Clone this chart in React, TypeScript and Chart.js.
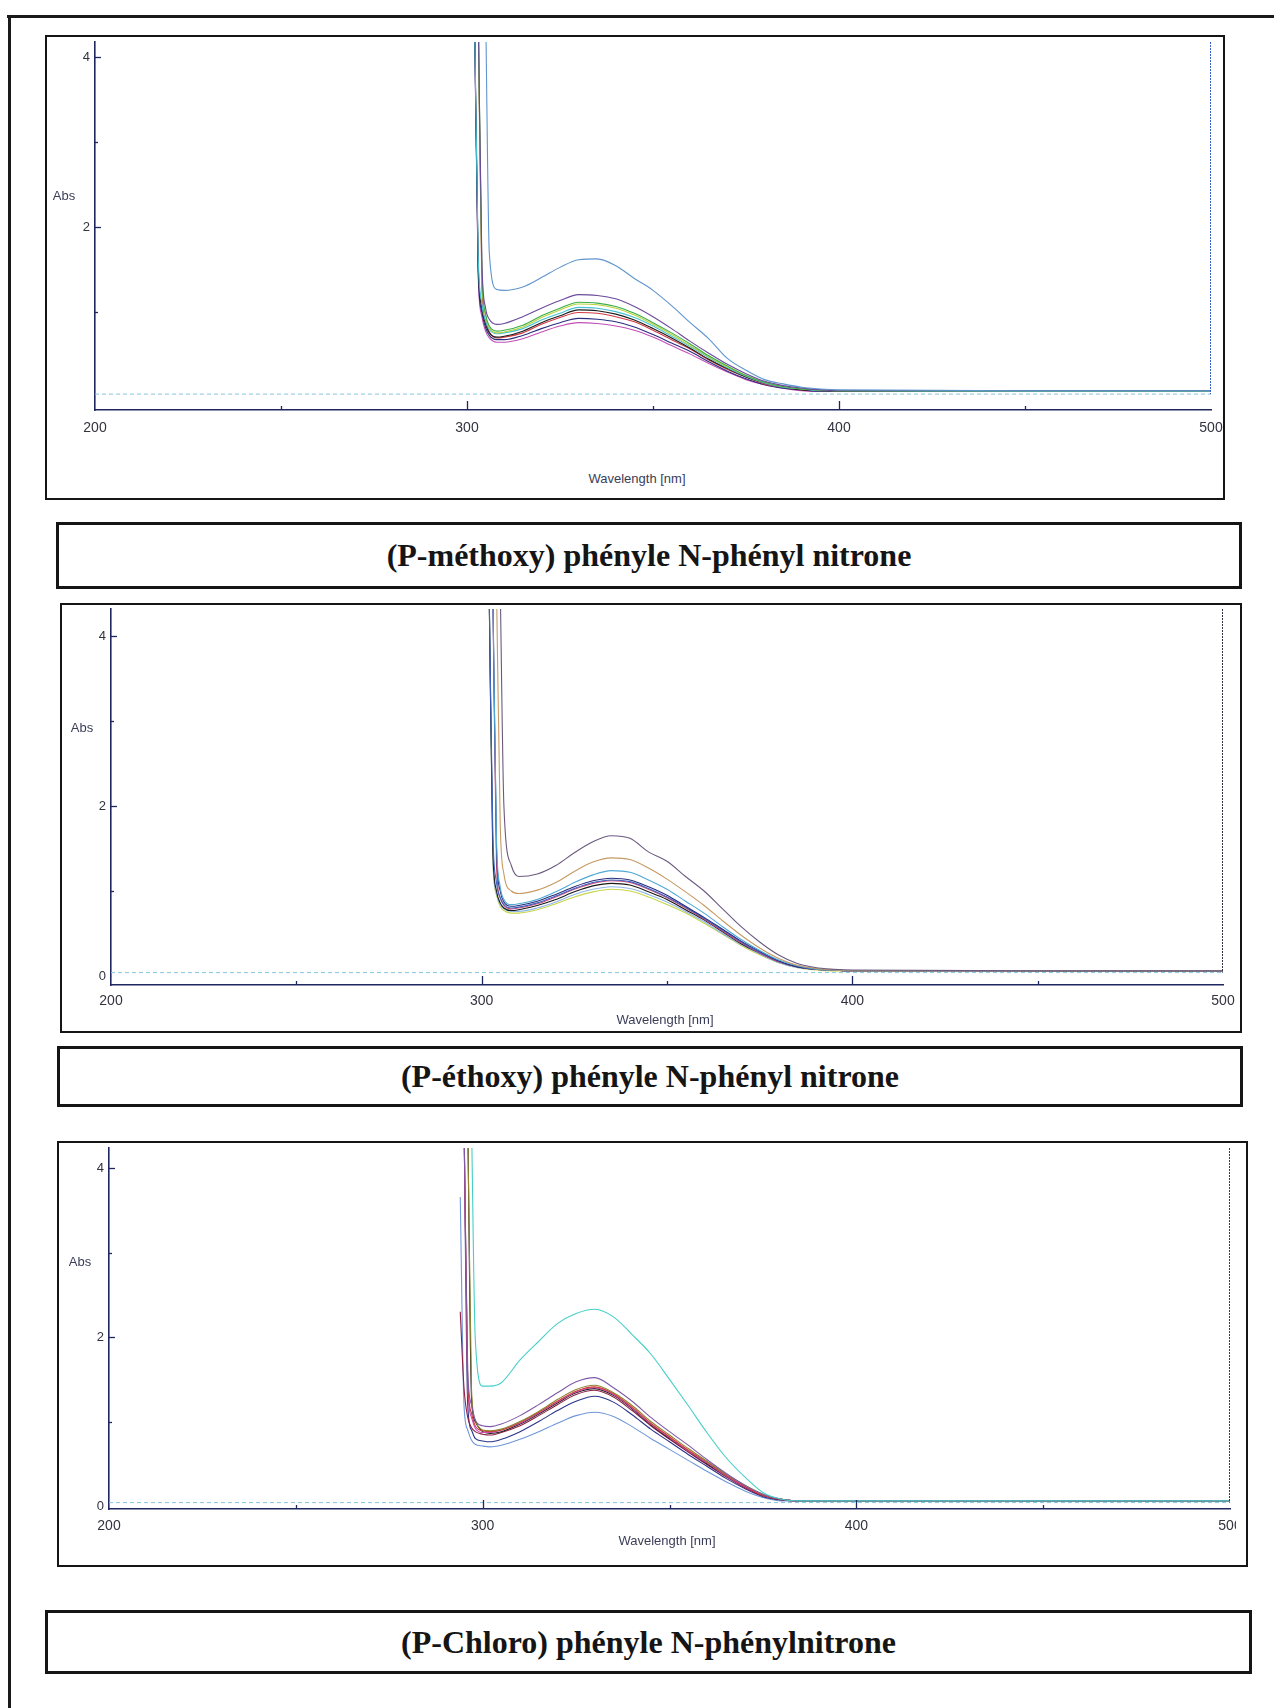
import React, { useEffect, useRef } from 'react';
import { Chart, registerables } from 'chart.js';

Chart.register(...registerables);

// ---------------- DATA ----------------
const X_TICKS = [200, 300, 400, 500];
const X_MAJOR_MARKS = [300, 400];
const X_MINOR_MARKS = [250, 350, 450];
const Y_MAJOR_MARKS = [2, 4];
const Y_MINOR_MARKS = [1, 3];
const P1_Y_TICKS = [2, 4];
const P2_Y_TICKS = [0, 2, 4];
const P3_Y_TICKS = [0, 2, 4];
const BASELINE_X = [200, 500];
const BASELINE_Y = [0.04, 0.04];

// Panel 1 : (P-méthoxy) phényle N-phényl nitrone
const P1_WL = [302, 303, 304, 305, 306, 308, 310, 315, 320, 325, 330, 335, 340, 345, 350, 355, 360, 365, 370, 375, 380, 385, 390, 395, 400, 450, 500];
const P1_S1 = [null, null, null, 4.6, 1.7, 1.27, 1.26, 1.3, 1.41, 1.53, 1.62, 1.63, 1.55, 1.4, 1.26, 1.08, 0.88, 0.69, 0.46, 0.32, 0.21, 0.16, 0.12, 0.1, 0.09, 0.08, 0.08];
const P1_S2 = [null, 4.6, 1.6, 1.05, 0.92, 0.86, 0.87, 0.95, 1.05, 1.14, 1.21, 1.2, 1.16, 1.07, 0.95, 0.81, 0.66, 0.52, 0.39, 0.28, 0.19, 0.14, 0.11, 0.09, 0.08, 0.08, 0.08];
const P1_S3 = [null, 4.6, 1.5, 0.98, 0.84, 0.78, 0.79, 0.85, 0.96, 1.05, 1.12, 1.11, 1.07, 0.99, 0.88, 0.76, 0.63, 0.49, 0.37, 0.26, 0.18, 0.13, 0.1, 0.09, 0.08, 0.08, 0.08];
const P1_S4 = [null, 4.6, 1.45, 0.96, 0.82, 0.76, 0.77, 0.83, 0.94, 1.03, 1.1, 1.09, 1.05, 0.97, 0.86, 0.74, 0.61, 0.48, 0.36, 0.26, 0.18, 0.13, 0.1, 0.09, 0.08, 0.08, 0.08];
const P1_S5 = [4.6, 1.7, 1.1, 0.9, 0.8, 0.75, 0.76, 0.81, 0.91, 0.99, 1.06, 1.05, 1.01, 0.94, 0.84, 0.72, 0.6, 0.47, 0.35, 0.25, 0.17, 0.12, 0.1, 0.08, 0.08, 0.07, 0.07];
const P1_S6 = [4.6, 1.6, 1.05, 0.86, 0.76, 0.71, 0.72, 0.78, 0.88, 0.96, 1.03, 1.02, 0.98, 0.91, 0.81, 0.7, 0.58, 0.45, 0.34, 0.24, 0.17, 0.12, 0.09, 0.08, 0.07, 0.07, 0.07];
const P1_S7 = [null, 4.6, 1.3, 0.9, 0.77, 0.7, 0.71, 0.76, 0.86, 0.94, 1.0, 0.99, 0.95, 0.89, 0.79, 0.68, 0.57, 0.44, 0.33, 0.24, 0.16, 0.12, 0.09, 0.08, 0.07, 0.07, 0.07];
const P1_S8 = [4.6, 1.5, 1.0, 0.82, 0.73, 0.68, 0.68, 0.73, 0.81, 0.88, 0.93, 0.92, 0.89, 0.83, 0.74, 0.64, 0.54, 0.42, 0.31, 0.22, 0.15, 0.11, 0.09, 0.07, 0.07, 0.07, 0.07];
const P1_S9 = [4.6, 1.45, 0.95, 0.78, 0.7, 0.65, 0.65, 0.69, 0.77, 0.84, 0.88, 0.87, 0.84, 0.79, 0.71, 0.61, 0.51, 0.4, 0.3, 0.21, 0.15, 0.11, 0.08, 0.07, 0.07, 0.07, 0.07];

// Panel 2 : (P-éthoxy) phényle N-phényl nitrone
const P2_WL = [302, 303, 304, 305, 306, 308, 310, 315, 320, 325, 330, 335, 340, 345, 350, 355, 360, 365, 370, 375, 380, 385, 390, 395, 400, 450, 500];
const P2_S1 = [null, null, null, 4.6, 2.0, 1.3, 1.17, 1.2, 1.3, 1.45, 1.58, 1.65, 1.62, 1.46, 1.35, 1.17, 1.0, 0.79, 0.58, 0.4, 0.25, 0.15, 0.1, 0.08, 0.07, 0.06, 0.06];
const P2_S2 = [null, null, 4.6, 1.8, 1.2, 1.0, 0.97, 1.01, 1.1, 1.23, 1.34, 1.39, 1.37, 1.27, 1.14, 0.99, 0.83, 0.65, 0.48, 0.33, 0.21, 0.13, 0.09, 0.07, 0.06, 0.06, 0.06];
const P2_S3 = [null, 4.6, 1.6, 1.05, 0.9, 0.84, 0.85, 0.9, 0.99, 1.1, 1.19, 1.24, 1.22, 1.13, 1.02, 0.88, 0.74, 0.58, 0.43, 0.3, 0.19, 0.12, 0.08, 0.07, 0.06, 0.06, 0.06];
const P2_S4 = [null, 4.6, 1.5, 1.0, 0.87, 0.82, 0.83, 0.88, 0.96, 1.05, 1.12, 1.15, 1.13, 1.05, 0.95, 0.82, 0.69, 0.55, 0.41, 0.29, 0.18, 0.11, 0.08, 0.07, 0.06, 0.06, 0.06];
const P2_S5 = [4.6, 1.7, 1.1, 0.92, 0.84, 0.8, 0.81, 0.86, 0.94, 1.03, 1.1, 1.13, 1.11, 1.03, 0.93, 0.81, 0.68, 0.54, 0.4, 0.28, 0.18, 0.11, 0.08, 0.07, 0.06, 0.06, 0.06];
const P2_S6 = [null, 4.6, 1.3, 0.92, 0.83, 0.79, 0.8, 0.85, 0.93, 1.02, 1.09, 1.12, 1.1, 1.02, 0.92, 0.8, 0.67, 0.53, 0.39, 0.27, 0.17, 0.11, 0.08, 0.07, 0.06, 0.06, 0.06];
const P2_S7 = [4.6, 1.5, 1.0, 0.86, 0.8, 0.77, 0.78, 0.83, 0.9, 0.99, 1.06, 1.09, 1.07, 0.99, 0.9, 0.78, 0.66, 0.52, 0.38, 0.27, 0.17, 0.11, 0.08, 0.07, 0.06, 0.06, 0.06];
const P2_S8 = [4.6, 1.4, 0.97, 0.84, 0.79, 0.76, 0.76, 0.8, 0.87, 0.96, 1.02, 1.05, 1.03, 0.96, 0.87, 0.76, 0.64, 0.5, 0.37, 0.26, 0.16, 0.1, 0.08, 0.07, 0.06, 0.06, 0.06];
const P2_S9 = [4.6, 1.4, 0.95, 0.82, 0.77, 0.74, 0.74, 0.78, 0.85, 0.93, 0.99, 1.02, 1.0, 0.93, 0.84, 0.74, 0.62, 0.49, 0.36, 0.25, 0.16, 0.1, 0.07, 0.06, 0.06, 0.06, 0.06];

// Panel 3 : (P-Chloro) phényle N-phénylnitrone
const P3_WL = [294, 295, 296, 297, 298, 300, 302, 305, 310, 315, 320, 325, 330, 335, 340, 345, 350, 355, 360, 365, 370, 375, 380, 385, 390, 400, 450, 500];
const P3_S1 = [null, null, null, 4.6, 2.0, 1.42, 1.42, 1.46, 1.73, 1.95, 2.16, 2.28, 2.33, 2.24, 2.03, 1.8, 1.5, 1.19, 0.87, 0.58, 0.35, 0.16, 0.08, 0.06, 0.06, 0.06, 0.06, 0.06];
const P3_S2 = [null, 4.6, 1.6, 1.2, 1.02, 0.95, 0.94, 0.97, 1.07, 1.2, 1.34, 1.47, 1.52, 1.4, 1.24, 1.05, 0.88, 0.72, 0.55, 0.39, 0.25, 0.14, 0.08, 0.06, 0.06, 0.06, 0.06, 0.06];
const P3_S3 = [null, null, 4.6, 1.4, 1.02, 0.9, 0.89, 0.91, 1.0, 1.12, 1.26, 1.38, 1.43, 1.34, 1.19, 1.0, 0.84, 0.68, 0.53, 0.38, 0.25, 0.14, 0.08, 0.06, 0.06, 0.06, 0.06, 0.06];
const P3_S4 = [null, 4.6, 1.5, 1.1, 0.95, 0.89, 0.88, 0.9, 0.99, 1.11, 1.24, 1.36, 1.41, 1.33, 1.17, 0.98, 0.82, 0.66, 0.52, 0.37, 0.24, 0.13, 0.08, 0.06, 0.06, 0.06, 0.06, 0.06];
const P3_S5 = [null, 4.6, 1.4, 1.05, 0.92, 0.87, 0.87, 0.9, 0.98, 1.1, 1.23, 1.35, 1.4, 1.32, 1.16, 0.97, 0.81, 0.65, 0.51, 0.36, 0.23, 0.13, 0.08, 0.06, 0.06, 0.06, 0.06, 0.06];
const P3_S6 = [null, null, 4.6, 1.3, 1.0, 0.88, 0.86, 0.88, 0.97, 1.09, 1.22, 1.34, 1.39, 1.31, 1.15, 0.96, 0.8, 0.65, 0.5, 0.36, 0.23, 0.13, 0.08, 0.06, 0.06, 0.06, 0.06, 0.06];
const P3_S7 = [2.3, 1.4, 1.05, 0.93, 0.88, 0.85, 0.84, 0.87, 0.95, 1.07, 1.2, 1.32, 1.37, 1.29, 1.13, 0.95, 0.79, 0.64, 0.49, 0.35, 0.22, 0.12, 0.07, 0.06, 0.06, 0.06, 0.06, 0.06];
const P3_S8 = [null, 4.6, 1.2, 0.9, 0.8, 0.77, 0.76, 0.79, 0.88, 1.0, 1.13, 1.24, 1.3, 1.23, 1.08, 0.91, 0.76, 0.61, 0.47, 0.33, 0.21, 0.11, 0.07, 0.06, 0.06, 0.06, 0.06, 0.06];
const P3_S9 = [3.66, 1.2, 0.9, 0.78, 0.73, 0.71, 0.7, 0.72, 0.79, 0.88, 0.98, 1.07, 1.11, 1.06, 0.94, 0.8, 0.67, 0.54, 0.41, 0.29, 0.18, 0.1, 0.06, 0.06, 0.06, 0.06, 0.06, 0.06];

const P1_TITLE = '(P-méthoxy) phényle N-phényl nitrone';
const P2_TITLE = '(P-éthoxy) phényle N-phényl nitrone';
const P3_TITLE = '(P-Chloro) phényle N-phénylnitrone';
const Y_TITLE = 'Abs';
const X_TITLE = 'Wavelength [nm]';

// ---------------- STYLES / LAYOUT ----------------
const P1_COLORS = ['#5f95cf', '#6a4a9c', '#3fae4a', '#b8d43a', '#45c2d6', '#1e1e1e', '#d23a44', '#2b2f80', '#c24fb6'];
const P2_COLORS = ['#6b5a80', '#c69a62', '#4fa8d8', '#27307c', '#3f63c4', '#d64a72', '#1a1a1a', '#8fb6e6', '#c7d64a'];
const P3_COLORS = ['#46cfc6', '#7e5aa8', '#8f8232', '#d3383d', '#c94fb8', '#1e1e1e', '#8e2044', '#2c3388', '#6f97d8'];

const AXIS_COLOR = '#1f2660';
const TICK_COLOR = '#333340';
const TICK_FONT = "'Liberation Sans Narrow', 'Liberation Sans', Arial, sans-serif";
const LEFT_EXTRA = 60;
const TOP_EXTRA = 8;
const BOTTOM_EXTRA = 40;
const Y_W = 30;
const X_H = 30;

type Area = { L: number; T: number; R: number; B: number };
type PanelCfg = {
  grid: number[];
  series: (number | null)[][];
  colors: string[];
  yTicks: number[];
  yMin: number;
  yMax: number;
  area: Area;
  rightPad: number;
  xPad: number;
  rightLineColor: string;
};

const PANEL1: PanelCfg = {
  grid: P1_WL,
  series: [P1_S1, P1_S2, P1_S3, P1_S4, P1_S5, P1_S6, P1_S7, P1_S8, P1_S9],
  colors: P1_COLORS,
  yTicks: P1_Y_TICKS,
  yMin: -0.147,
  yMax: 4.18,
  area: { L: 95, T: 42, R: 1211, B: 410 },
  rightPad: 14,
  xPad: 10,
  rightLineColor: '#3b62c8',
};
const PANEL2: PanelCfg = {
  grid: P2_WL,
  series: [P2_S1, P2_S2, P2_S3, P2_S4, P2_S5, P2_S6, P2_S7, P2_S8, P2_S9],
  colors: P2_COLORS,
  yTicks: P2_Y_TICKS,
  yMin: -0.106,
  yMax: 4.318,
  area: { L: 111, T: 609, R: 1223, B: 985 },
  rightPad: 14,
  xPad: 8,
  rightLineColor: '#333340',
};
const PANEL3: PanelCfg = {
  grid: P3_WL,
  series: [P3_S1, P3_S2, P3_S3, P3_S4, P3_S5, P3_S6, P3_S7, P3_S8, P3_S9],
  colors: P3_COLORS,
  yTicks: P3_Y_TICKS,
  yMin: -0.036,
  yMax: 4.24,
  area: { L: 109, T: 1148, R: 1230, B: 1509 },
  rightPad: 6,
  xPad: 9,
  rightLineColor: '#2b3a80',
};

function makeMarksPlugin(cfg: PanelCfg) {
  return {
    id: 'insideMarks',
    afterDatasetsDraw(chart: any) {
      const { ctx, chartArea } = chart;
      const xs = chart.scales.x;
      const ys = chart.scales.y;
      const seg = (x1: number, y1: number, x2: number, y2: number) => {
        ctx.beginPath();
        ctx.moveTo(x1, y1);
        ctx.lineTo(x2, y2);
        ctx.stroke();
      };
      ctx.save();
      ctx.strokeStyle = AXIS_COLOR;
      ctx.lineWidth = 1.3;
      const yb = chartArea.bottom;
      X_MAJOR_MARKS.forEach((v) => { const x = Math.round(xs.getPixelForValue(v)) + 0.5; seg(x, yb, x, yb - 9); });
      X_MINOR_MARKS.forEach((v) => { const x = Math.round(xs.getPixelForValue(v)) + 0.5; seg(x, yb, x, yb - 4); });
      const xl = chartArea.left;
      Y_MAJOR_MARKS.forEach((v) => { const y = Math.round(ys.getPixelForValue(v)) + 0.5; seg(xl, y, xl + 6, y); });
      Y_MINOR_MARKS.forEach((v) => { const y = Math.round(ys.getPixelForValue(v)) + 0.5; seg(xl, y, xl + 3, y); });
      // right-hand frame line of the spectrum window
      ctx.strokeStyle = cfg.rightLineColor;
      ctx.lineWidth = 1;
      ctx.setLineDash([2, 1]);
      const xr = Math.round(xs.getPixelForValue(500)) - 0.5;
      seg(xr, chartArea.top, xr, ys.getPixelForValue(BASELINE_Y[1]));
      ctx.restore();
    },
  };
}

function SpectrumChart({ cfg }: { cfg: PanelCfg }) {
  const ref = useRef<HTMLCanvasElement | null>(null);
  const { L, T, R, B } = cfg.area;
  const cw = R - L + LEFT_EXTRA + cfg.rightPad;
  const ch = B - T + TOP_EXTRA + BOTTOM_EXTRA;

  useEffect(() => {
    if (!ref.current) return;
    const datasets: any[] = cfg.series.map((vals, i) => ({
      data: vals.map((v, j) => ({ x: cfg.grid[j], y: v })),
      borderColor: cfg.colors[i],
      borderWidth: 1.1,
      pointRadius: 0,
      fill: false,
      spanGaps: false,
      cubicInterpolationMode: 'monotone',
    }));
    datasets.push({
      data: BASELINE_X.map((x, j) => ({ x, y: BASELINE_Y[j] })),
      borderColor: '#86c6e2',
      borderWidth: 1,
      borderDash: [4, 3],
      pointRadius: 0,
      fill: false,
    });
    const tickFont = { family: TICK_FONT, size: 14 };
    const chart = new Chart(ref.current, {
      type: 'line',
      data: { datasets },
      options: {
        animation: false,
        responsive: false,
        maintainAspectRatio: false,
        devicePixelRatio: 1,
        events: [],
        layout: {
          autoPadding: false,
          padding: { left: LEFT_EXTRA - Y_W, top: TOP_EXTRA, right: cfg.rightPad, bottom: BOTTOM_EXTRA - X_H },
        },
        plugins: { legend: { display: false }, tooltip: { enabled: false } },
        scales: {
          x: {
            type: 'linear',
            min: 200,
            max: 500,
            afterBuildTicks: (s: any) => { s.ticks = X_TICKS.map((v) => ({ value: v })); },
            afterFit: (s: any) => { s.height = X_H; s.paddingLeft = 0; s.paddingRight = 0; },
            grid: { display: false, drawTicks: false },
            border: { display: true, color: AXIS_COLOR, width: 1.6 },
            ticks: { font: tickFont, color: TICK_COLOR, padding: cfg.xPad, maxRotation: 0, autoSkip: false },
          },
          y: {
            type: 'linear',
            min: cfg.yMin,
            max: cfg.yMax,
            afterBuildTicks: (s: any) => { s.ticks = cfg.yTicks.map((v) => ({ value: v })); },
            afterFit: (s: any) => { s.width = Y_W; s.paddingTop = 0; s.paddingBottom = 0; },
            grid: { display: false, drawTicks: false },
            border: { display: true, color: AXIS_COLOR, width: 1.6 },
            ticks: { font: { family: TICK_FONT, size: 13 }, color: TICK_COLOR, padding: 5 },
          },
        },
      } as any,
      plugins: [makeMarksPlugin(cfg)],
    });
    return () => chart.destroy();
  }, [cfg]);

  return (
    <canvas
      ref={ref}
      width={cw}
      height={ch}
      style={{ position: 'absolute', left: L - LEFT_EXTRA, top: T - TOP_EXTRA, width: cw, height: ch }}
    />
  );
}

function Box({ l, t, r, b, w }: { l: number; t: number; r: number; b: number; w: number }) {
  return (
    <div
      style={{
        position: 'absolute', left: l, top: t, width: r - l, height: b - t,
        border: `${w}px solid #151515`, boxSizing: 'border-box',
      }}
    />
  );
}

function TitleBox({ l, t, r, b, text }: { l: number; t: number; r: number; b: number; text: string }) {
  return (
    <div
      style={{
        position: 'absolute', left: l, top: t, width: r - l, height: b - t,
        border: '3px solid #151515', boxSizing: 'border-box',
        display: 'flex', alignItems: 'center', justifyContent: 'center',
        fontFamily: "'Liberation Serif', 'Times New Roman', serif", fontWeight: 'bold',
        fontSize: 32, color: '#151515', whiteSpace: 'nowrap',
      }}
    >
      {text}
    </div>
  );
}

function Label({ x, y, text }: { x: number; y: number; text: string }) {
  return (
    <div
      style={{
        position: 'absolute', left: x, top: y, transform: 'translate(-50%, -50%)',
        fontFamily: "'Liberation Sans', Arial, sans-serif", fontSize: 13, color: '#3a3d58',
        whiteSpace: 'nowrap', lineHeight: 1,
      }}
    >
      {text}
    </div>
  );
}

export default function App() {
  return (
    <div style={{ position: 'absolute', left: 0, top: 0, width: 1274, height: 1708, background: '#ffffff', overflow: 'hidden' }}>
      {/* page frame */}
      <div style={{ position: 'absolute', left: 7, top: 15, width: 1267, height: 3, background: '#1a1a1a' }} />
      <div style={{ position: 'absolute', left: 8, top: 15, width: 3, height: 1693, background: '#1a1a1a' }} />

      {/* panel 1 */}
      <Box l={45} t={35} r={1225} b={500} w={2} />
      <SpectrumChart cfg={PANEL1} />
      <Label x={64} y={195} text={Y_TITLE} />
      <Label x={637} y={478} text={X_TITLE} />
      <TitleBox l={56} t={522} r={1242} b={589} text={P1_TITLE} />

      {/* panel 2 */}
      <Box l={60} t={603} r={1242} b={1033} w={2} />
      <SpectrumChart cfg={PANEL2} />
      <Label x={82} y={727} text={Y_TITLE} />
      <Label x={665} y={1019} text={X_TITLE} />
      <TitleBox l={57} t={1046} r={1243} b={1107} text={P2_TITLE} />

      {/* panel 3 */}
      <Box l={57} t={1141} r={1248} b={1567} w={2} />
      <SpectrumChart cfg={PANEL3} />
      <Label x={80} y={1261} text={Y_TITLE} />
      <Label x={667} y={1540} text={X_TITLE} />
      <TitleBox l={45} t={1610} r={1252} b={1674} text={P3_TITLE} />
    </div>
  );
}
